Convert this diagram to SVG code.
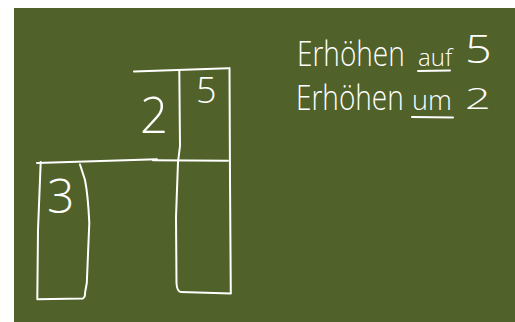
<svg xmlns="http://www.w3.org/2000/svg" width="515" height="322" viewBox="0 0 515 322">
<style>
.ln{fill:none;stroke:#ffffff;stroke-width:2;stroke-linecap:round;stroke-linejoin:round}
.tx{fill:#ffffff;font-family:"Open Sans","Liberation Sans",sans-serif;font-weight:300}
</style>
<rect x="0" y="0" width="515" height="322" fill="#ffffff"/>
<rect x="14" y="8" width="501" height="314" fill="#50622a"/>
<g id="shapes">
<path class="ln" d="M134,71.5 L228,68.3"/>
<path class="ln" d="M229.5,68 L230,180 L230.8,293"/>
<path class="ln" d="M179.3,70 L180,146 L178,162 L176,217 L176.5,283 Q177,292 181,292 L230.8,293.5"/>
<path class="ln" d="M37,163 L157,159.3"/>
<path class="ln" d="M153,160.2 L228,160.7"/>
<path class="ln" d="M40.7,162 L38,230 L37.3,299.3 L83,298.5 Q85.5,297 85,293 L86.8,283 L89.3,223 Q88,195 85,180 L80,164.5"/>
</g>
<g id="labels">
<text class="tx" x="47" y="213" font-size="48">3</text>
<text class="tx" x="140" y="133" font-size="49">2</text>
<text class="tx" x="196" y="103" font-size="36">5</text>
<text class="tx" transform="translate(297,66) scale(1,1.25)" x="0" y="0" font-size="28">Erhöhen</text>
<text class="tx" transform="translate(418,66)" x="0" y="0" font-size="24">auf</text>
<text class="tx" transform="translate(465,63) scale(1.2,1)" x="0" y="0" font-size="39">5</text>
<path class="ln" d="M418,71 L450,70.5"/>
<text class="tx" transform="translate(296,110) scale(1,1.25)" x="0" y="0" font-size="28">Erhöhen</text>
<text class="tx" transform="translate(412,110)" x="0" y="0" font-size="27">um</text>
<text class="tx" transform="translate(465,109) scale(1.5,1)" x="0" y="0" font-size="30">2</text>
<path class="ln" d="M412,117 L453,117.5"/>
</g>
</svg>
